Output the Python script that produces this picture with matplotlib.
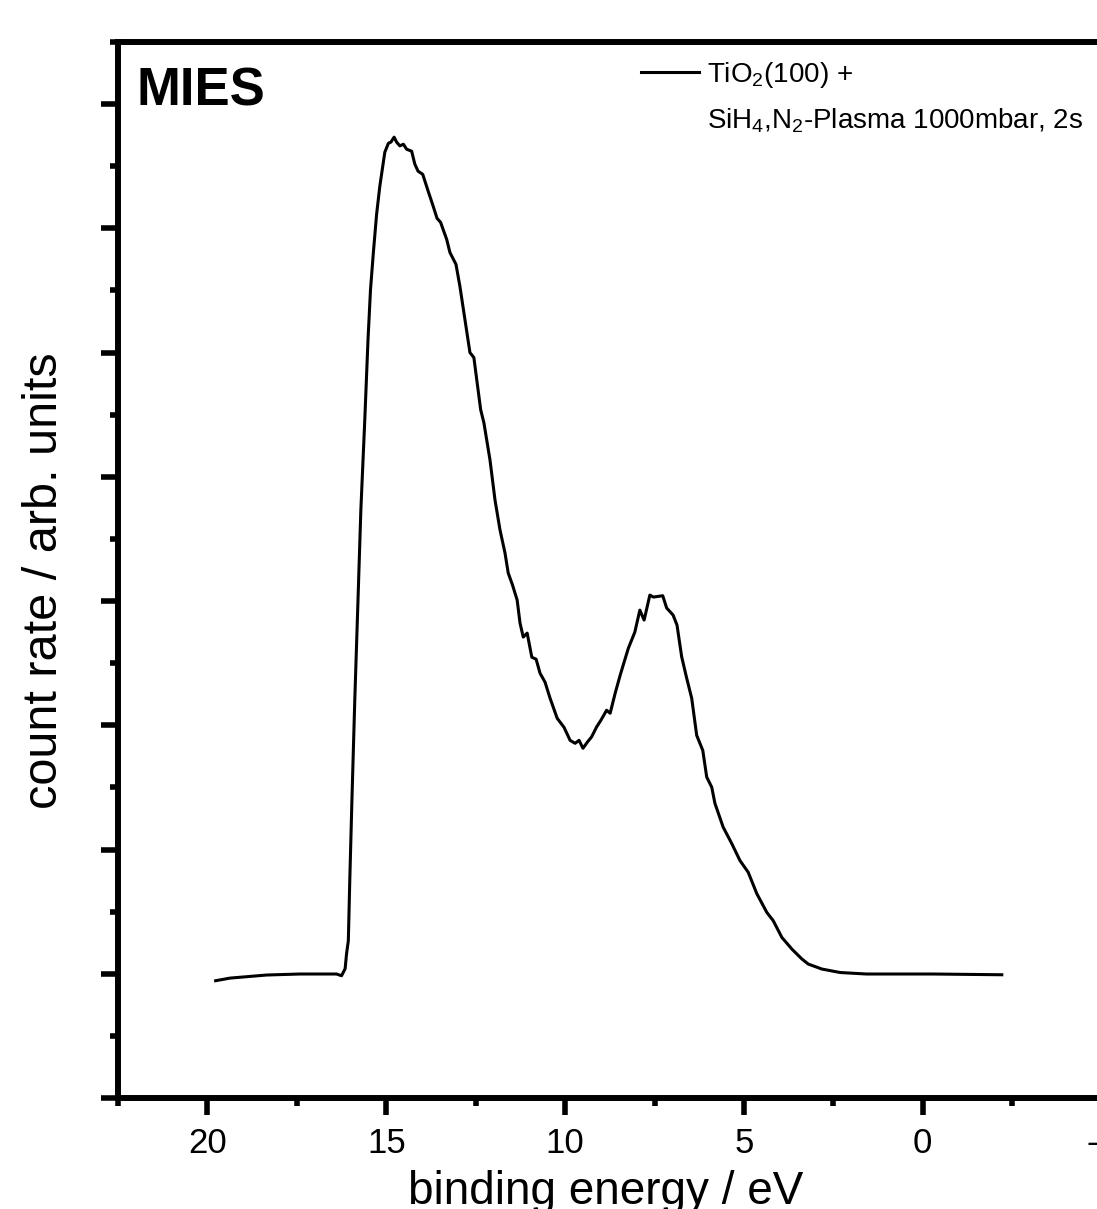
import matplotlib
matplotlib.use("Agg")
import matplotlib.pyplot as plt
from matplotlib.lines import Line2D
from matplotlib.ticker import MultipleLocator

plt.rcParams['font.family'] = ['Liberation Sans', 'DejaVu Sans']
plt.rcParams['mathtext.fontset'] = 'custom'
plt.rcParams['mathtext.rm'] = 'Liberation Sans'
plt.rcParams['mathtext.it'] = 'Liberation Sans:italic'
plt.rcParams['mathtext.bf'] = 'Liberation Sans:bold'
plt.rcParams['axes.unicode_minus'] = False

# binding energy (eV) and count rate (arb. units)
energy = [19.77, 19.37, 18.34, 17.41, 16.39, 16.25, 16.15, 16.11, 16.06, 16.02,
          15.96, 15.88, 15.79, 15.71, 15.60, 15.51, 15.44, 15.36, 15.27, 15.18,
          15.04, 14.94, 14.87, 14.78, 14.71, 14.62, 14.52, 14.43, 14.29, 14.20,
          14.11, 13.98, 13.83, 13.69, 13.58, 13.48, 13.31, 13.22, 13.05, 12.94,
          12.80, 12.66, 12.55, 12.47, 12.36, 12.27, 12.10, 11.96, 11.82, 11.68,
          11.59, 11.47, 11.34, 11.26, 11.17, 11.06, 10.93, 10.81, 10.70, 10.56,
          10.42, 10.22, 10.03, 9.86, 9.72, 9.61, 9.50, 9.36, 9.26, 9.12,
          9.00, 8.84, 8.74, 8.60, 8.46, 8.35, 8.23, 8.05, 7.91, 7.79,
          7.63, 7.53, 7.27, 7.16, 6.98, 6.87, 6.74, 6.60, 6.46, 6.32,
          6.15, 6.04, 5.90, 5.81, 5.58, 5.34, 5.11, 4.88, 4.64, 4.36,
          4.18, 3.94, 3.66, 3.38, 3.20, 2.82, 2.31, 1.57, -0.29, -2.21]
counts = [0.944, 0.965, 0.990, 0.998, 0.998, 0.984, 1.040, 1.161, 1.266, 1.750,
          2.395, 3.202, 4.008, 4.734, 5.460, 6.105, 6.508, 6.806, 7.113, 7.339,
          7.613, 7.685, 7.694, 7.734, 7.694, 7.664, 7.677, 7.637, 7.621, 7.516,
          7.460, 7.435, 7.301, 7.180, 7.081, 7.048, 6.911, 6.806, 6.710, 6.532,
          6.266, 6.000, 5.960, 5.782, 5.540, 5.435, 5.137, 4.815, 4.573, 4.387,
          4.226, 4.129, 4.008, 3.823, 3.710, 3.742, 3.548, 3.532, 3.419, 3.347,
          3.218, 3.056, 2.984, 2.879, 2.855, 2.879, 2.815, 2.871, 2.906, 2.986,
          3.040, 3.121, 3.097, 3.258, 3.403, 3.508, 3.621, 3.750, 3.927, 3.847,
          4.048, 4.032, 4.043, 3.944, 3.887, 3.806, 3.551, 3.379, 3.218, 2.919,
          2.798, 2.583, 2.502, 2.371, 2.180, 2.048, 1.911, 1.817, 1.645, 1.494,
          1.427, 1.293, 1.199, 1.119, 1.078, 1.038, 1.010, 0.998, 0.998, 0.992]

x_ticks = [20, 15, 10, 5, 0, -5]
x_ticklabels = ['20', '15', '10', '5', '0', '-5']
legend_line1 = 'TiO$_2$(100) +'
legend_line2 = 'SiH$_4$,N$_2$-Plasma 1000mbar, 2s'

W, H = 1097, 1209
fig = plt.figure(figsize=(W / 100, H / 100), dpi=100)
L, R, T, B = 118, 1191, 42, 1098
ax = fig.add_axes([L / W, 1 - B / H, (R - L) / W, (B - T) / H])

line, = ax.plot(energy, counts, color='black', lw=2.2)

ax.set_xlim(22.5, -7.5)
ax.set_ylim(0, 8.5)
ax.set_xticks(x_ticks)
ax.set_xticklabels(x_ticklabels)
ax.xaxis.set_minor_locator(MultipleLocator(2.5))
ax.yaxis.set_major_locator(MultipleLocator(1))
ax.yaxis.set_minor_locator(MultipleLocator(0.5))

for s in ax.spines.values():
    s.set_linewidth(4.3)
ax.tick_params(which='major', direction='out', length=12, width=4, labelsize=25, pad=9)
ax.tick_params(which='minor', direction='out', length=6, width=4)
ax.tick_params(axis='y', which='both', labelleft=False)

fig.text(606 / W, 1 - 1204 / H, 'binding energy / eV', fontsize=33,
         ha='center', va='baseline')
fig.text(45 / W, 1 - 581 / H, 'count rate / arb. units', fontsize=35,
         ha='center', va='center', rotation=90)

fig.text(136 / W, 1 - 106 / H, 'MIES', fontsize=38, fontweight='bold',
         ha='left', va='baseline')

h2 = Line2D([], [], color='none')
leg = ax.legend([line, h2], [legend_line1, legend_line2],
                loc='upper left', bbox_to_anchor=(641 / W, 1 - 60 / H),
                bbox_transform=fig.transFigure, frameon=False, fontsize=20,
                handlelength=2.07, handletextpad=0.32, borderpad=0,
                borderaxespad=0, labelspacing=0.6)
for t in leg.get_texts():
    t.set_color('black')

fig.savefig('out.png', dpi=100)
